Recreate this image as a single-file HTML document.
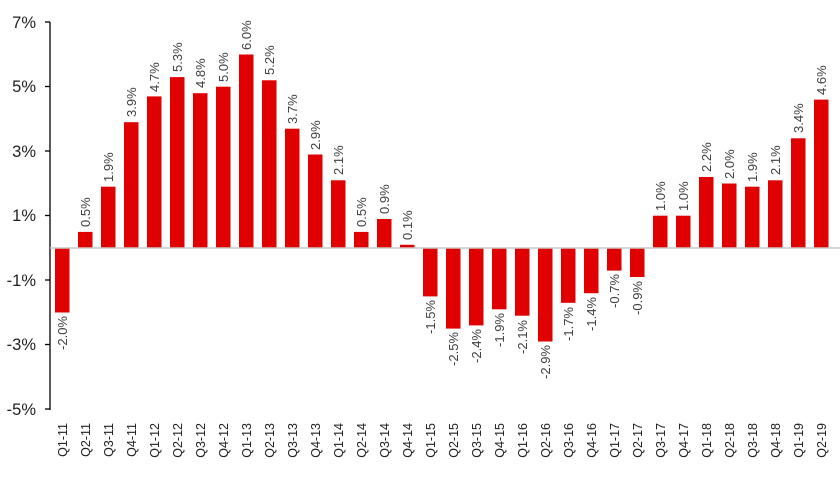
<!DOCTYPE html>
<html><head><meta charset="utf-8"><style>
html,body{margin:0;padding:0;background:#fff;}
svg{display:block;font-family:"Liberation Sans",Arial,sans-serif;}
.v{font-size:13px;fill:#404040;}
.x{font-size:12.5px;fill:#222;}
.y{font-size:16.5px;fill:#222;}
</style></head><body>
<svg width="840" height="477" viewBox="0 0 840 477">
<g class="y" text-anchor="end">
<text x="36" y="28">7%</text><text x="36" y="92">5%</text><text x="36" y="157">3%</text><text x="36" y="221">1%</text><text x="36" y="286">-1%</text><text x="36" y="350">-3%</text><text x="36" y="415">-5%</text>
</g>
<g stroke="#000" stroke-width="1.3" fill="none">
<line x1="50" y1="22" x2="50" y2="410"/>
<line x1="45" y1="22" x2="50" y2="22"/><line x1="45" y1="86.5" x2="50" y2="86.5"/><line x1="45" y1="151" x2="50" y2="151"/><line x1="45" y1="215.5" x2="50" y2="215.5"/><line x1="45" y1="280" x2="50" y2="280"/><line x1="45" y1="344.5" x2="50" y2="344.5"/><line x1="45" y1="409" x2="50" y2="409"/>
</g>
<g fill="#e00000">
<rect x="55" y="248" width="14.5" height="64.5"/>
<rect x="78" y="231.9" width="14.5" height="16.1"/>
<rect x="101" y="186.7" width="14.5" height="61.3"/>
<rect x="124" y="122.2" width="14.5" height="125.8"/>
<rect x="147" y="96.4" width="14.5" height="151.6"/>
<rect x="170" y="77.1" width="14.5" height="170.9"/>
<rect x="193" y="93.2" width="14.5" height="154.8"/>
<rect x="216" y="86.7" width="14.5" height="161.3"/>
<rect x="239" y="54.5" width="14.5" height="193.5"/>
<rect x="262" y="80.3" width="14.5" height="167.7"/>
<rect x="285" y="128.7" width="14.5" height="119.3"/>
<rect x="308" y="154.5" width="14.5" height="93.5"/>
<rect x="331" y="180.3" width="14.5" height="67.7"/>
<rect x="354" y="231.9" width="14.5" height="16.1"/>
<rect x="377" y="219" width="14.5" height="29"/>
<rect x="400" y="244.8" width="14.5" height="3.2"/>
<rect x="423" y="248" width="14.5" height="48.4"/>
<rect x="446" y="248" width="14.5" height="80.6"/>
<rect x="469" y="248" width="14.5" height="77.4"/>
<rect x="492" y="248" width="14.5" height="61.3"/>
<rect x="515" y="248" width="14.5" height="67.7"/>
<rect x="538" y="248" width="14.5" height="93.5"/>
<rect x="561" y="248" width="14.5" height="54.8"/>
<rect x="584" y="248" width="14.5" height="45.2"/>
<rect x="607" y="248" width="14.5" height="22.6"/>
<rect x="630" y="248" width="14.5" height="29"/>
<rect x="653" y="215.7" width="14.5" height="32.3"/>
<rect x="676" y="215.7" width="14.5" height="32.3"/>
<rect x="699" y="177" width="14.5" height="71"/>
<rect x="722" y="183.5" width="14.5" height="64.5"/>
<rect x="745" y="186.7" width="14.5" height="61.3"/>
<rect x="768" y="180.3" width="14.5" height="67.7"/>
<rect x="791" y="138.3" width="14.5" height="109.7"/>
<rect x="814" y="99.6" width="14.5" height="148.4"/>
</g>
<line x1="50" y1="248" x2="840" y2="248" stroke="#c8c8c8" stroke-width="1.5"/>
<g class="v">
<text text-anchor="end" transform="translate(67,316) rotate(-90)">-2.0%</text>
<text transform="translate(90,227) rotate(-90)">0.5%</text>
<text transform="translate(113,182) rotate(-90)">1.9%</text>
<text transform="translate(136,117) rotate(-90)">3.9%</text>
<text transform="translate(159,92) rotate(-90)">4.7%</text>
<text transform="translate(182,72) rotate(-90)">5.3%</text>
<text transform="translate(205,88) rotate(-90)">4.8%</text>
<text transform="translate(228,82) rotate(-90)">5.0%</text>
<text transform="translate(251,50) rotate(-90)">6.0%</text>
<text transform="translate(274,75) rotate(-90)">5.2%</text>
<text transform="translate(297,124) rotate(-90)">3.7%</text>
<text transform="translate(320,150) rotate(-90)">2.9%</text>
<text transform="translate(343,175) rotate(-90)">2.1%</text>
<text transform="translate(366,227) rotate(-90)">0.5%</text>
<text transform="translate(389,214) rotate(-90)">0.9%</text>
<text transform="translate(412,240) rotate(-90)">0.1%</text>
<text text-anchor="end" transform="translate(435,300) rotate(-90)">-1.5%</text>
<text text-anchor="end" transform="translate(458,332) rotate(-90)">-2.5%</text>
<text text-anchor="end" transform="translate(481,329) rotate(-90)">-2.4%</text>
<text text-anchor="end" transform="translate(504,313) rotate(-90)">-1.9%</text>
<text text-anchor="end" transform="translate(527,320) rotate(-90)">-2.1%</text>
<text text-anchor="end" transform="translate(550,345) rotate(-90)">-2.9%</text>
<text text-anchor="end" transform="translate(573,307) rotate(-90)">-1.7%</text>
<text text-anchor="end" transform="translate(596,297) rotate(-90)">-1.4%</text>
<text text-anchor="end" transform="translate(619,274) rotate(-90)">-0.7%</text>
<text text-anchor="end" transform="translate(642,281) rotate(-90)">-0.9%</text>
<text transform="translate(665,211) rotate(-90)">1.0%</text>
<text transform="translate(688,211) rotate(-90)">1.0%</text>
<text transform="translate(711,172) rotate(-90)">2.2%</text>
<text transform="translate(734,179) rotate(-90)">2.0%</text>
<text transform="translate(757,182) rotate(-90)">1.9%</text>
<text transform="translate(780,175) rotate(-90)">2.1%</text>
<text transform="translate(803,133) rotate(-90)">3.4%</text>
<text transform="translate(826,95) rotate(-90)">4.6%</text>
</g>
<g class="x" text-anchor="end">
<text transform="translate(67,423) rotate(-90)">Q1-11</text>
<text transform="translate(90,423) rotate(-90)">Q2-11</text>
<text transform="translate(113,423) rotate(-90)">Q3-11</text>
<text transform="translate(136,423) rotate(-90)">Q4-11</text>
<text transform="translate(159,423) rotate(-90)">Q1-12</text>
<text transform="translate(182,423) rotate(-90)">Q2-12</text>
<text transform="translate(205,423) rotate(-90)">Q3-12</text>
<text transform="translate(228,423) rotate(-90)">Q4-12</text>
<text transform="translate(251,423) rotate(-90)">Q1-13</text>
<text transform="translate(274,423) rotate(-90)">Q2-13</text>
<text transform="translate(297,423) rotate(-90)">Q3-13</text>
<text transform="translate(320,423) rotate(-90)">Q4-13</text>
<text transform="translate(343,423) rotate(-90)">Q1-14</text>
<text transform="translate(366,423) rotate(-90)">Q2-14</text>
<text transform="translate(389,423) rotate(-90)">Q3-14</text>
<text transform="translate(412,423) rotate(-90)">Q4-14</text>
<text transform="translate(435,423) rotate(-90)">Q1-15</text>
<text transform="translate(458,423) rotate(-90)">Q2-15</text>
<text transform="translate(481,423) rotate(-90)">Q3-15</text>
<text transform="translate(504,423) rotate(-90)">Q4-15</text>
<text transform="translate(527,423) rotate(-90)">Q1-16</text>
<text transform="translate(550,423) rotate(-90)">Q2-16</text>
<text transform="translate(573,423) rotate(-90)">Q3-16</text>
<text transform="translate(596,423) rotate(-90)">Q4-16</text>
<text transform="translate(619,423) rotate(-90)">Q1-17</text>
<text transform="translate(642,423) rotate(-90)">Q2-17</text>
<text transform="translate(665,423) rotate(-90)">Q3-17</text>
<text transform="translate(688,423) rotate(-90)">Q4-17</text>
<text transform="translate(711,423) rotate(-90)">Q1-18</text>
<text transform="translate(734,423) rotate(-90)">Q2-18</text>
<text transform="translate(757,423) rotate(-90)">Q3-18</text>
<text transform="translate(780,423) rotate(-90)">Q4-18</text>
<text transform="translate(803,423) rotate(-90)">Q1-19</text>
<text transform="translate(826,423) rotate(-90)">Q2-19</text>
</g>
</svg>
</body></html>
